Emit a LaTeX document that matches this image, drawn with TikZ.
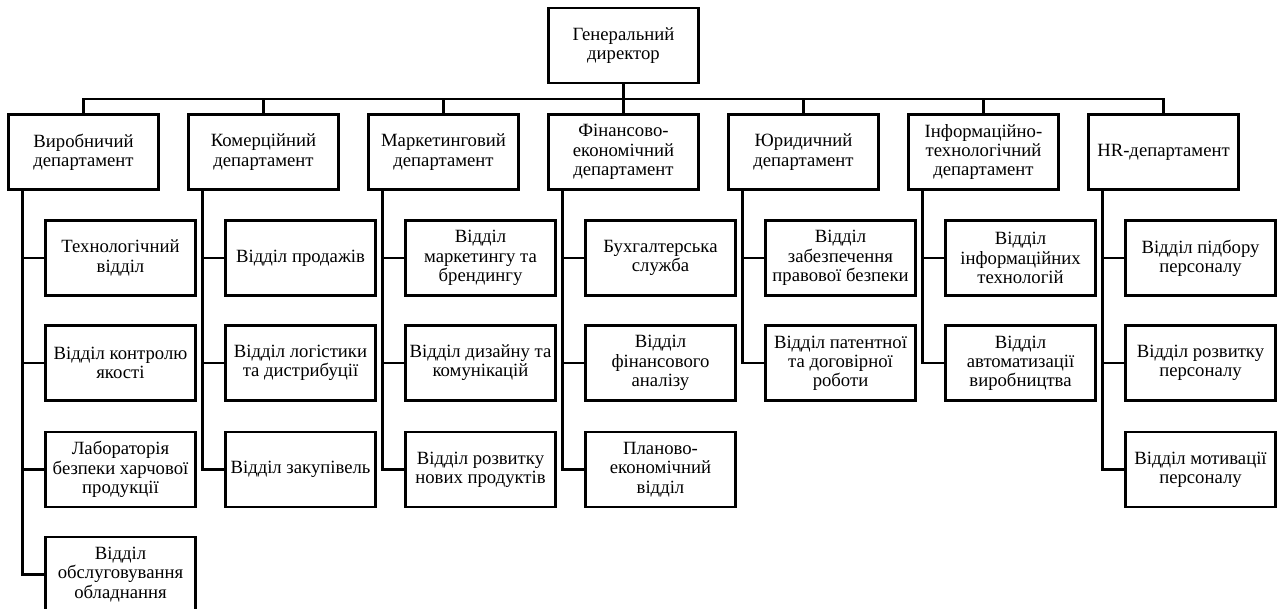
\documentclass[tikz,border=0pt]{standalone}
\usepackage{fontspec}
\setmainfont{Liberation Serif}
\begin{document}
\begin{tikzpicture}[x=1pt,y=-1pt,
  box/.style={draw,line width=2.2pt,minimum width=150pt,minimum height=75pt,inner sep=0pt,align=center,font=\fontsize{18.7}{19.2}\selectfont},
  conn/.style={line width=2.2pt}]
\useasboundingbox (0,0) rectangle (1281,609);
% top
\node[box] (g) at (623.5,45.5) {Генеральний\\директор};
% departments
\node[box] (d1) at (83.5,152) {Виробничий\\департамент};
\node[box] (d2) at (263.5,152) {Комерційний\\департамент};
\node[box] (d3) at (443.5,152) {Маркетинговий\\департамент};
\node[box] (d4) at (623.5,152) {Фінансово-\\економічний\\департамент};
\node[box] (d5) at (803.5,152) {Юридичний\\департамент};
\node[box] (d6) at (983.5,152) {Інформаційно-\\технологічний\\департамент};
\node[box] (d7) at (1163.5,152) {HR-департамент};
% bus
\coordinate (bus) at (0,99);
\draw[conn] (g.south) -- (g.south |- bus);
\draw[conn] (d1.north) -- (d1.north |- bus) -- (d7.north |- bus) -- (d7.north);
\foreach \d in {d2,d3,d4,d5,d6}{\draw[conn] (\d.north) -- (\d.north |- bus);}
% sub units
\node[box] (s11) at (120.5,258) {Технологічний\\відділ};
\node[box] (s12) at (120.5,363) {Відділ контролю\\якості};
\node[box] (s13) at (120.5,469.5) {Лабораторія\\безпеки харчової\\продукції};
\node[box] (s14) at (120.5,574.5) {Відділ\\обслуговування\\обладнання};
\node[box] (s21) at (300.5,258) {Відділ продажів};
\node[box] (s22) at (300.5,363) {Відділ логістики\\та дистрибуції};
\node[box] (s23) at (300.5,469.5) {Відділ закупівель};
\node[box] (s31) at (480.5,258) {Відділ\\маркетингу та\\брендингу};
\node[box] (s32) at (480.5,363) {Відділ дизайну та\\комунікацій};
\node[box] (s33) at (480.5,469.5) {Відділ розвитку\\нових продуктів};
\node[box] (s41) at (660.5,258) {Бухгалтерська\\служба};
\node[box] (s42) at (660.5,363) {Відділ\\фінансового\\аналізу};
\node[box] (s43) at (660.5,469.5) {Планово-\\економічний\\відділ};
\node[box] (s51) at (840.5,258) {Відділ\\забезпечення\\правової безпеки};
\node[box] (s52) at (840.5,363) {Відділ патентної\\та договірної\\роботи};
\node[box] (s61) at (1020.5,258) {Відділ\\інформаційних\\технологій};
\node[box] (s62) at (1020.5,363) {Відділ\\автоматизації\\виробництва};
\node[box] (s71) at (1200.5,258) {Відділ підбору\\персоналу};
\node[box] (s72) at (1200.5,363) {Відділ розвитку\\персоналу};
\node[box] (s73) at (1200.5,469.5) {Відділ мотивації\\персоналу};
% trunks
\foreach \d in {1,...,7}{\coordinate (t\d) at ([xshift=15pt]d\d.south west);}
\draw[conn] (t1) |- (s14.west);
\foreach \s in {s11,s12,s13}{\draw[conn] (\s.west -| t1) -- (\s.west);}
\draw[conn] (t2) |- (s23.west);
\foreach \s in {s21,s22}{\draw[conn] (\s.west -| t2) -- (\s.west);}
\draw[conn] (t3) |- (s33.west);
\foreach \s in {s31,s32}{\draw[conn] (\s.west -| t3) -- (\s.west);}
\draw[conn] (t4) |- (s43.west);
\foreach \s in {s41,s42}{\draw[conn] (\s.west -| t4) -- (\s.west);}
\draw[conn] (t5) |- (s52.west);
\draw[conn] (s51.west -| t5) -- (s51.west);
\draw[conn] (t6) |- (s62.west);
\draw[conn] (s61.west -| t6) -- (s61.west);
\draw[conn] (t7) |- (s73.west);
\foreach \s in {s71,s72}{\draw[conn] (\s.west -| t7) -- (\s.west);}
\end{tikzpicture}
\end{document}
